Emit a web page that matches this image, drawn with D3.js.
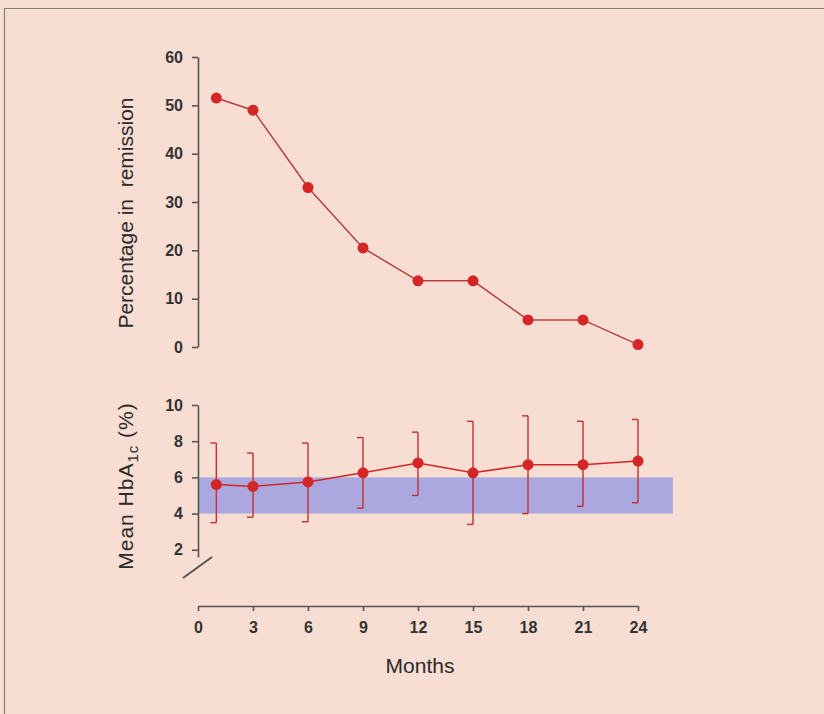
<!DOCTYPE html>
<html>
<head>
<meta charset="utf-8">
<script src="https://cdn.jsdelivr.net/npm/d3@7"></script>
<style>
  body { margin: 0; background: #f7ddd2; }
  svg { display: block; }
  .axis text { font-family: "Liberation Sans", Arial, sans-serif; font-size: 16px; font-weight: bold; fill: #333; }
  .axis path, .axis line { stroke: #555; stroke-width: 1.6; }
</style>
</head>
<body>
<svg width="824" height="714"></svg>
<script>
// months of follow-up
var months = [1, 3, 6, 9, 12, 15, 18, 21, 24];
// percentage of patients still in remission
var remission = [51.5, 49, 33, 20.5, 13.7, 13.7, 5.6, 5.6, 0.5];
// mean HbA1c with the ends of the bars
var hbaMean = [5.6, 5.5, 5.75, 6.25, 6.8, 6.25, 6.7, 6.7, 6.9];
var hbaHigh = [7.9, 7.35, 7.9, 8.2, 8.5, 9.1, 9.4, 9.1, 9.2];
var hbaLow = [3.5, 3.8, 3.55, 4.3, 5.0, 3.4, 4.0, 4.4, 4.6];
// normal HbA1c range shown as the blue band
var normalRange = [4, 6];
var bandEnd = 25.9;
// tick labels
var monthTicks = [0, 3, 6, 9, 12, 15, 18, 21, 24];
var remissionTicks = [0, 10, 20, 30, 40, 50, 60];
var hbaTicks = [2, 4, 6, 8, 10];

var svg = d3.select("svg");

// frame on the left and top
svg.append("path")
    .attr("d", "M4.5,714 V8.5 H824")
    .attr("fill", "none")
    .attr("stroke", "#808080")
    .attr("stroke-width", 1.2);

var x = d3.scaleLinear().domain([0, 24]).range([198, 638]);
var yTop = d3.scaleLinear().domain([0, 60]).range([347, 57]);
var yBot = d3.scaleLinear().domain([1.6, 10]).range([557, 405]);

var red = "#d42626";

// blue band for normal range
svg.append("rect")
    .attr("x", x(0))
    .attr("y", yBot(normalRange[1]))
    .attr("width", x(bandEnd) - x(0))
    .attr("height", yBot(normalRange[0]) - yBot(normalRange[1]))
    .attr("fill", "#aaa8de");

// top axis
svg.append("g")
    .attr("class", "axis")
    .attr("transform", "translate(" + x(0) + ",0)")
    .call(d3.axisLeft(yTop).tickValues(remissionTicks).tickSize(6).tickSizeOuter(0).tickPadding(9));

// bottom y axis
svg.append("g")
    .attr("class", "axis")
    .attr("transform", "translate(" + x(0) + ",0)")
    .call(d3.axisLeft(yBot).tickValues(hbaTicks).tickSize(6).tickSizeOuter(0).tickPadding(9));

// axis break mark
svg.append("path")
    .attr("d", "M183,578 L212,557")
    .attr("stroke", "#555")
    .attr("stroke-width", 2);

// x axis
svg.append("g")
    .attr("class", "axis")
    .attr("transform", "translate(0,606)")
    .call(d3.axisBottom(x).tickValues(monthTicks).tickSize(5).tickSizeOuter(0).tickPadding(11));

// remission line
var remPts = months.map(function(m, i) { return {m: m, v: remission[i]}; });
svg.append("path")
    .datum(remPts)
    .attr("fill", "none")
    .attr("stroke", "#b8403a")
    .attr("stroke-width", 1.5)
    .attr("d", d3.line().x(function(d) { return x(d.m); }).y(function(d) { return yTop(d.v); }));

svg.selectAll(".dotTop")
    .data(remPts)
    .enter().append("circle")
      .attr("cx", function(d) { return x(d.m); })
      .attr("cy", function(d) { return yTop(d.v); })
      .attr("r", 5.5)
      .attr("fill", red);

// HbA1c error bars, line and points
var hbaPts = months.map(function(m, i) { return {m: m, v: hbaMean[i], hi: hbaHigh[i], lo: hbaLow[i]}; });

var bars = svg.selectAll(".err")
    .data(hbaPts)
    .enter().append("g");

bars.append("line")
    .attr("x1", function(d) { return x(d.m); })
    .attr("x2", function(d) { return x(d.m); })
    .attr("y1", function(d) { return yBot(d.hi); })
    .attr("y2", function(d) { return yBot(d.lo); })
    .attr("stroke", "#c03030")
    .attr("stroke-width", 1.4);

bars.append("line")
    .attr("x1", function(d) { return x(d.m) - 6; })
    .attr("x2", function(d) { return x(d.m); })
    .attr("y1", function(d) { return yBot(d.hi); })
    .attr("y2", function(d) { return yBot(d.hi); })
    .attr("stroke", "#c03030")
    .attr("stroke-width", 1.4);

bars.append("line")
    .attr("x1", function(d) { return x(d.m) - 6; })
    .attr("x2", function(d) { return x(d.m); })
    .attr("y1", function(d) { return yBot(d.lo); })
    .attr("y2", function(d) { return yBot(d.lo); })
    .attr("stroke", "#c03030")
    .attr("stroke-width", 1.4);

svg.append("path")
    .datum(hbaPts)
    .attr("fill", "none")
    .attr("stroke", red)
    .attr("stroke-width", 1.5)
    .attr("d", d3.line().x(function(d) { return x(d.m); }).y(function(d) { return yBot(d.v); }));

svg.selectAll(".dotBot")
    .data(hbaPts)
    .enter().append("circle")
      .attr("cx", function(d) { return x(d.m); })
      .attr("cy", function(d) { return yBot(d.v); })
      .attr("r", 5.5)
      .attr("fill", red);

// axis titles
var font = "'Liberation Sans', Arial, sans-serif";

svg.append("text")
    .attr("transform", "translate(133,213) rotate(-90)")
    .attr("text-anchor", "middle")
    .attr("font-family", font)
    .attr("font-size", 21)
    .attr("fill", "#2a2a2a")
    .attr("xml:space", "preserve")
    .text("Percentage in  remission");

var hb = svg.append("text")
    .attr("transform", "translate(133,486) rotate(-90)")
    .attr("text-anchor", "middle")
    .attr("font-family", font)
    .attr("font-size", 21)
    .attr("letter-spacing", 1)
    .attr("fill", "#2a2a2a");
hb.append("tspan").text("Mean HbA");
hb.append("tspan").attr("font-size", 15).attr("dy", 5).text("1c");
hb.append("tspan").attr("dy", -5).text(" (%)");

svg.append("text")
    .attr("x", 420)
    .attr("y", 673)
    .attr("text-anchor", "middle")
    .attr("font-family", font)
    .attr("font-size", 21)
    .attr("fill", "#2a2a2a")
    .text("Months");
</script>
</body>
</html>
